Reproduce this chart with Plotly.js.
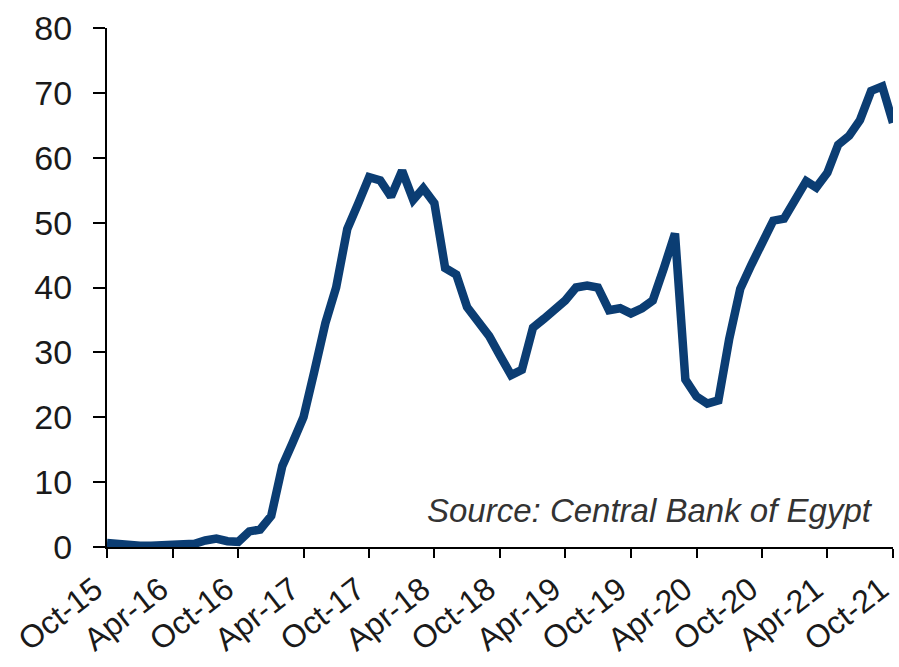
<!DOCTYPE html>
<html>
<head>
<meta charset="utf-8">
<script src="https://cdn.plot.ly/plotly-3.0.1.min.js"></script>
<style>html,body{margin:0;padding:0;background:#fff;}#chart{width:899px;height:667px;}</style>
</head>
<body>
<div id="chart"></div>
<script>
const months = [
  "2015-10-01","2015-11-01","2015-12-01","2016-01-01","2016-02-01","2016-03-01","2016-04-01","2016-05-01","2016-06-01","2016-07-01","2016-08-01","2016-09-01",
  "2016-10-01","2016-11-01","2016-12-01","2017-01-01","2017-02-01","2017-03-01","2017-04-01","2017-05-01","2017-06-01","2017-07-01","2017-08-01","2017-09-01",
  "2017-10-01","2017-11-01","2017-12-01","2018-01-01","2018-02-01","2018-03-01","2018-04-01","2018-05-01","2018-06-01","2018-07-01","2018-08-01","2018-09-01",
  "2018-10-01","2018-11-01","2018-12-01","2019-01-01","2019-02-01","2019-03-01","2019-04-01","2019-05-01","2019-06-01","2019-07-01","2019-08-01","2019-09-01",
  "2019-10-01","2019-11-01","2019-12-01","2020-01-01","2020-02-01","2020-03-01","2020-04-01","2020-05-01","2020-06-01","2020-07-01","2020-08-01","2020-09-01",
  "2020-10-01","2020-11-01","2020-12-01","2021-01-01","2021-02-01","2021-03-01","2021-04-01","2021-05-01","2021-06-01","2021-07-01","2021-08-01","2021-09-01",
  "2021-10-01"
];
const values = [
  0.6, 0.4, 0.2, 0.2, 0.2, 0.3, 0.4, 0.5, 0.5, 1.0, 1.3, 0.9,
  0.8, 2.4, 2.7, 4.8, 12.5, 16.0, 20.0, 27.0, 34.5, 40.0, 49.0, 53.0,
  57.0, 56.5, 54.0, 58.0, 53.5, 55.3, 53.0, 43.0, 42.0, 37.0, 34.8, 32.5,
  29.5, 26.5, 27.3, 33.8, 35.2, 36.5, 38.0, 40.0, 40.3, 40.0, 36.5, 36.8,
  36.0, 36.8, 38.0, 43.0, 48.3, 25.8, 23.2, 22.1, 22.6, 32.0, 39.8, 43.5,
  47.0, 50.3, 50.6, 53.5, 56.4, 55.4, 57.7, 62.0, 63.4, 65.8, 70.3, 71.0,
  65.4
];
const xTickVals = ["2015-10-01","2016-04-01","2016-10-01","2017-04-01","2017-10-01","2018-04-01","2018-10-01",
                   "2019-04-01","2019-10-01","2020-04-01","2020-10-01","2021-04-01","2021-10-01"];
const xTickText = ["Oct-15","Apr-16","Oct-16","Apr-17","Oct-17","Apr-18","Oct-18",
                   "Apr-19","Oct-19","Apr-20","Oct-20","Apr-21","Oct-21"];
const sourceText = "Source: Central Bank of Egypt";

const trace = {
  x: months,
  y: values,
  type: "scatter",
  mode: "lines",
  line: {color: "#0b3d73", width: 8.5},
  hoverinfo: "skip"
};

const layout = {
  width: 899,
  height: 667,
  margin: {l: 107, r: 6, t: 28, b: 120},
  paper_bgcolor: "#ffffff",
  plot_bgcolor: "#ffffff",
  showlegend: false,
  font: {family: "Liberation Sans, Arial, sans-serif", color: "#1a1a1a"},
  xaxis: {
    type: "date",
    range: ["2015-10-01", "2021-10-01"],
    tickmode: "array",
    tickvals: xTickVals,
    ticktext: xTickText,
    tickangle: -38,
    ticks: "outside",
    ticklen: 9,
    tickwidth: 2,
    tickcolor: "#000",
    showline: true,
    linecolor: "#000",
    linewidth: 2,
    showgrid: false,
    zeroline: false,
    ticklabeloverflow: "allow",
    ticklabelshift: -12,
    tickfont: {size: 32, color: "#1a1a1a"}
  },
  yaxis: {
    range: [0, 80],
    dtick: 10,
    ticks: "outside",
    ticklen: 12,
    tickwidth: 2,
    tickcolor: "#000",
    showline: true,
    linecolor: "#000",
    linewidth: 2,
    showgrid: false,
    zeroline: false,
    tickfont: {size: 34, color: "#1a1a1a"},
    ticklabelstandoff: 14
  },
  annotations: [{
    text: "<i>" + sourceText + "</i>",
    xref: "paper", yref: "paper",
    x: 0.977, y: 0.071,
    xanchor: "right", yanchor: "middle",
    showarrow: false,
    font: {size: 33, color: "#333333", family: "Liberation Sans, Arial, sans-serif"}
  }]
};

Plotly.newPlot("chart", [trace], layout, {displayModeBar: false, staticPlot: true});
</script>
</body>
</html>
